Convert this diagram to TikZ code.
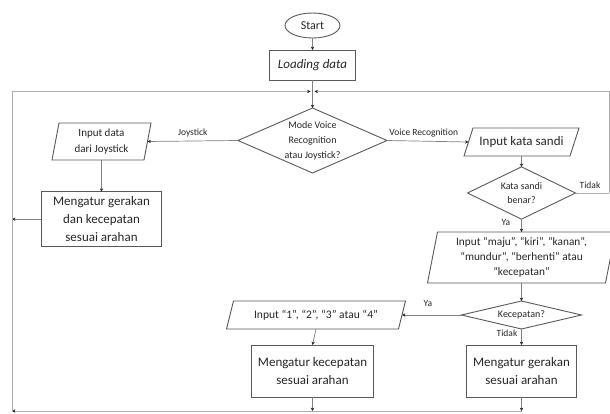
\documentclass[tikz,border=0pt]{standalone}
\usepackage{fontspec}
\setmainfont{Carlito}
\usetikzlibrary{calc,arrows.meta,shapes.geometric}
\tikzset{
  boxline/.style={draw=black!65, line width=0.9pt},
  conn/.style={draw=black!50, line width=0.7pt, -{Stealth[length=3.4pt,width=3.4pt,color=black!85]}},
  frame/.style={draw=black!32, line width=0.8pt},
  framearrow/.style={frame, -{Stealth[length=3.4pt,width=3.4pt,color=black!85]}},
  holder/.style={inner sep=0pt, outer sep=0pt, align=center, text=black!85},
  rectbox/.style={holder, boxline, rectangle},
  lbl/.style={inner sep=0pt, text=black!85, font=\fontsize{9.5}{11}\selectfont},
}
\newcommand\parabox[2]{\draw[boxline] ($(#1.south west)+(-#2,0)$) -- ($(#1.north west)+(#2,0)$) -- ($(#1.north east)+(#2,0)$) -- ($(#1.south east)+(-#2,0)$) -- cycle;}
\newcommand\diabox[1]{\draw[boxline] (#1.north) -- (#1.east) -- (#1.south) -- (#1.west) -- cycle;}
\begin{document}
\begin{tikzpicture}[x=1pt,y=-1pt]
\useasboundingbox (0,0) rectangle (610,414);
% nodes
\node[holder, boxline, ellipse, minimum width=55pt, minimum height=25pt, font=\fontsize{12}{14}\selectfont] (start) at (312.5,25.5) {Start};
\node[rectbox, minimum width=86pt, minimum height=30pt, font=\fontsize{13}{16}\selectfont\itshape] (load) at (312.5,65) {Loading data};
\node[holder, minimum width=149pt, minimum height=65pt, font=\fontsize{10}{15}\selectfont] (d1) at (312.5,140.5) {Mode Voice\\Recognition\\atau Joystick?};
\node[holder, minimum width=92pt, minimum height=37pt, font=\fontsize{11}{16.5}\selectfont] (pj) at (101.5,141.5) {Input data\\dari Joystick};
\node[rectbox, minimum width=120.6pt, minimum height=55pt, font=\fontsize{13}{18}\selectfont] (r1) at (101.5,219.2) {Mengatur gerakan\\dan kecepatan\\sesuai arahan};
\node[holder, minimum width=106pt, minimum height=28pt, font=\fontsize{13}{16}\selectfont] (pk) at (521.5,142) {Input kata sandi};
\node[holder, minimum width=108pt, minimum height=52.3pt, font=\fontsize{10}{14}\selectfont] (d2) at (521.5,193) {Kata sandi\\benar?};
\node[holder, minimum width=178pt, minimum height=51pt, font=\fontsize{11.3}{15}\selectfont] (pm) at (521.5,257.5) {Input “maju”, “kiri”, “kanan”,\\“mundur”, “berhenti” atau\\“kecepatan”};
\node[holder, minimum width=120pt, minimum height=28pt, font=\fontsize{10}{12}\selectfont] (d3) at (521.5,315) {Kecepatan?};
\node[holder, minimum width=172pt, minimum height=28pt, font=\fontsize{11.5}{14}\selectfont] (p4) at (316,315) {Input “1”, “2”, “3” atau “4”};
\node[rectbox, minimum width=121.6pt, minimum height=52pt, font=\fontsize{13}{18}\selectfont] (r2) at (312.5,371) {Mengatur kecepatan\\sesuai arahan};
\node[rectbox, minimum width=110pt, minimum height=52pt, font=\fontsize{13}{18}\selectfont] (r3) at (521.5,371) {Mengatur gerakan\\sesuai arahan};
% outlines
\diabox{d1}\diabox{d2}\diabox{d3}
\parabox{pj}{3.5}\parabox{pk}{4.5}\parabox{pm}{5}\parabox{p4}{3.5}
% frame coordinates
\coordinate (J) at (312.5,91.5);
\coordinate (TL) at (12,91.5);
\coordinate (BL) at (12,411);
\coordinate (TR) at (609,91.5);
\coordinate (RT) at (609,193);
\coordinate (L1) at (12,219.2);
\coordinate (B2) at (312.5,411);
\coordinate (B3) at (521.5,411);
% connectors
\draw[conn] (start) -- (load);
\draw[conn] (load) -- (d1.north);
\draw[conn] (d1.west) -- node[lbl, above=4pt, pos=0.5] {Joystick} (pj.east);
\draw[conn] (pj.south) -- (r1.north);
\draw[conn] (r1.west) -- (L1);
\draw[conn] (d1.east) -- node[lbl, above=4pt, pos=0.45] {Voice Recognition} (pk.west);
\draw[conn] (pk.south) -- (d2.north);
\draw[frame] (d2.east) -- (RT);
\node[lbl] (tidak1) at (590,185) {Tidak};
\draw[framearrow] (RT) -- (TR) -- ([xshift=2pt]J);
\draw[conn] (d2.south) -- (pm.north);
\node[lbl] (ya1) at (506,222) {Ya};
\draw[conn] (pm.south) -- (d3.north);
\draw[conn] (d3.west) -- (p4.east);
\node[lbl] (ya2) at (428,303) {Ya};
\draw[conn] (d3.south) -- (r3.north);
\node[lbl] (tidak2) at (507,333) {Tidak};
\draw[conn] (p4.south) -- (r2.north);
\draw[conn] (r2.south) -- (B2);
\draw[conn] (r3.south) -- (B3);
\draw[framearrow] (B3) -- (BL);
\draw[framearrow] (BL) -- (TL) -- ([xshift=-2pt]J);
\end{tikzpicture}
\end{document}
